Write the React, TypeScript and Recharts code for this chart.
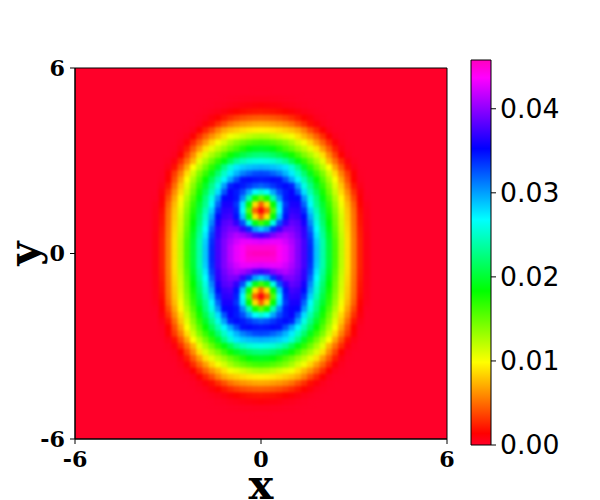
import React from "react";
import { ScatterChart, Scatter, XAxis, YAxis, ReferenceArea, Label } from "recharts";

// Grid of the upper-right quadrant: the picture is read as mirror-symmetric in x and y.
const xGrid = [0, 0.2, 0.4, 0.6, 0.8, 1.0, 1.2, 1.4, 1.6, 1.8, 2.0, 2.2, 2.4, 2.6, 2.8, 3.0, 3.2, 3.4, 3.6];
const yGrid = [0, 0.2, 0.4, 0.6, 0.8, 1.0, 1.2, 1.4, 1.6, 1.8, 2.0, 2.2, 2.4, 2.6, 2.8, 3.0, 3.2, 3.4, 3.6, 3.8, 4.0, 4.2, 4.4, 4.6, 4.8, 5.0, 5.2];
// Values in thousandths, one row per y, one column per x (missing cells are zero).
const densityRows = [
  [46, 46, 45.5, 44, 43, 41.5, 39.5, 37.5, 34, 28.7, 24, 20.1, 16.1, 12.2, 8.8, 5.6, 2.5, 0.6],
  [45, 45, 45, 44, 43, 41.5, 39.5, 37.5, 34, 28.7, 24, 20.1, 16.1, 12.2, 8.8, 5.6, 2.5, 0.6],
  [42.5, 42.8, 43, 43, 42.2, 41, 39.5, 37.5, 33.7, 28.4, 24, 19.9, 16, 12.2, 8.8, 5.6, 2.5, 0.6],
  [37.2, 37.9, 39.5, 40.6, 41.2, 40.3, 39, 37, 33.1, 27.6, 23.4, 19.5, 15.6, 11.9, 8.7, 5.5, 2.4, 0.6],
  [28.4, 30, 33.8, 37.1, 39.2, 39.4, 38.5, 36.8, 32.1, 26.8, 22.8, 18.9, 15.2, 11.6, 8.5, 5.4, 2.3, 0.5],
  [16.2, 19.1, 26, 32.6, 36.8, 38.5, 38, 36, 30.8, 25.9, 22, 18.3, 14.8, 11.4, 8.3, 5.3, 2.1, 0.5],
  [4.7, 8.9, 18.6, 28.6, 34.8, 37.5, 37.1, 35, 29.7, 25.2, 21.4, 17.8, 14.5, 11.2, 8.1, 5.2, 2, 0.45],
  [1, 4.7, 15.6, 26.7, 34.2, 36.8, 36.6, 33.7, 28.4, 24.3, 20.6, 17.2, 14, 10.8, 7.9, 5, 1.8, 0.4],
  [4.6, 8.7, 18.2, 27.5, 33.5, 36.1, 36, 32, 27, 23, 19.9, 16.6, 13.4, 10.3, 7.5, 4.6, 1.5, 0.3],
  [15.2, 17.9, 24.4, 30.6, 34.5, 35.6, 35, 30.3, 25.9, 22.4, 18.8, 15.7, 12.6, 9.6, 6.8, 3.8, 1.2, 0.1],
  [25.4, 26.8, 29.7, 32.7, 34.4, 35.5, 32.4, 27.9, 24.3, 21, 17.7, 14.7, 11.7, 8.7, 6, 3, 0.9],
  [32, 32.6, 33.5, 34.4, 35, 34.2, 30, 26, 22.9, 19.7, 16.7, 13.8, 10.9, 8, 5, 2.1, 0.5],
  [34.4, 34.6, 34.9, 34.7, 32.6, 29.8, 27.1, 24.2, 21.2, 18.3, 15.5, 12.7, 10, 6.9, 4, 1.4, 0.2],
  [33, 32.8, 32, 31, 29.3, 27.4, 24.9, 22, 19.2, 16.5, 14.2, 11.4, 8.7, 5.7, 3.3, 1.2, 0.1],
  [29.4, 29.2, 28.9, 28.4, 27.6, 25.4, 22.7, 19.5, 16.9, 14.6, 12.2, 9.85, 6.9, 4.2, 1.9, 0.5],
  [25.9, 25.7, 25.3, 24.5, 23.2, 21, 18.8, 16.8, 14.8, 12.7, 10.7, 7.4, 5.1, 2.8, 0.9, 0.2],
  [22.4, 22.2, 21.6, 20.7, 19.5, 17.9, 16.1, 14.2, 12.7, 11, 8.8, 6, 3.6, 1.4, 0.3],
  [19.3, 19.1, 18.6, 17.3, 16, 14.8, 13.3, 12, 10.6, 8.9, 6.6, 4.4, 2.3, 0.7, 0.1],
  [16.3, 16.1, 15.6, 14.9, 14, 12.8, 11.3, 10.2, 8.5, 6.6, 4.7, 2.8, 1.1, 0.3],
  [12.7, 12.5, 12, 11.4, 10.7, 10.2, 8.8, 7.5, 6.2, 4.6, 2.9, 1.3, 0.4, 0.1],
  [9.4, 9.3, 9.1, 8.8, 8.3, 7.8, 7, 5.7, 4, 2.6, 1.3, 0.4, 0.1],
  [7, 6.9, 6.6, 6.3, 5.8, 5.1, 4, 2.9, 1.8, 1, 0.4, 0.1],
  [4.5, 4.4, 4.2, 3.9, 3.4, 2.8, 2.1, 1.4, 0.9, 0.4, 0.15],
  [2.1, 2, 1.9, 1.7, 1.4, 1.1, 0.8, 0.5, 0.3, 0.1],
  [1, 0.9, 0.8, 0.7, 0.5, 0.4, 0.25, 0.15, 0.05],
  [0.3, 0.3, 0.25, 0.2, 0.15, 0.1, 0.05],
  [0.05, 0.05],
];
const axisTicks = [-6, 0, 6];
const barTicks = [0, 0.01, 0.02, 0.03, 0.04];
const barMax = 0.0458;

// gist_rainbow colour map: position, red, green, blue.
const rainbow: number[][] = [
  [0, 255, 0, 41],
  [0.03, 255, 0, 0],
  [0.215, 255, 255, 0],
  [0.4, 0, 255, 0],
  [0.586, 0, 255, 255],
  [0.77, 0, 0, 255],
  [0.954, 255, 0, 255],
  [1, 255, 0, 191],
];

function colourOf(value: number): string {
  const t = Math.min(1, Math.max(0, value / barMax));
  for (let i = 1; i < rainbow.length; i++) {
    if (t <= rainbow[i][0]) {
      const a = rainbow[i - 1];
      const b = rainbow[i];
      const f = (t - a[0]) / (b[0] - a[0]);
      const c = [1, 2, 3].map((k) => Math.round(a[k] + (b[k] - a[k]) * f));
      return `rgb(${c[0]},${c[1]},${c[2]})`;
    }
  }
  return "rgb(255,0,191)";
}

const cells: { x: number; y: number; v: number }[] = [];
yGrid.forEach((y, r) =>
  xGrid.forEach((x, c) => {
    const v = densityRows[r][c] / 1000;
    if (!(v > 0)) return;
    const xs = x === 0 ? [0] : [x, -x];
    const ys = y === 0 ? [0] : [y, -y];
    xs.forEach((px) => ys.forEach((py) => cells.push({ x: px, y: py, v })));
  })
);
const barPoints = barTicks.map((t) => ({ x: 0.5, y: t }));

const CELL = (372 / 12) * 0.2 + 0.6;
const Cell = (p: any) => (
  <rect x={p.cx - CELL / 2} y={p.cy - CELL / 2} width={CELL} height={CELL} fill={colourOf(p.payload.v)} />
);

const serifTick = { fontFamily: "DejaVu Serif", fontWeight: 700, fontSize: 22.2, fill: "#000" };
const labelStyle = { fontFamily: "DejaVu Serif", fontWeight: 700, fontSize: 41.7, fill: "#000" };

const XTitle = (p: any) => {
  const vb = p.viewBox;
  return (
    <text x={vb.x + vb.width / 2} y={499} textAnchor="middle" style={labelStyle}>
      x
    </text>
  );
};
const YTitle = (p: any) => {
  const vb = p.viewBox;
  const cx = 38;
  const cy = vb.y + vb.height / 2;
  return (
    <text x={cx} y={cy} textAnchor="middle" transform={`rotate(-90 ${cx} ${cy})`} style={labelStyle}>
      y
    </text>
  );
};

export default function App() {
  return (
    <div style={{ position: "absolute", left: 0, top: 0, width: 600, height: 500, background: "#fff" }}>
      <style>{`.heat .recharts-scatter { filter: blur(1.7px); }`}</style>
      <div className="heat" style={{ position: "absolute", left: 0, top: 0 }}>
        <ScatterChart width={600} height={500} margin={{ top: 68, left: 0, right: 153, bottom: 0 }}>
          <XAxis
            type="number"
            dataKey="x"
            domain={[-6, 6]}
            ticks={axisTicks}
            height={61}
            interval={0}
            tickLine={{ stroke: "#000" }}
            axisLine={{ stroke: "#000" }}
            tick={serifTick}
            tickSize={5}
            tickMargin={7}
          >
            <Label content={XTitle} />
          </XAxis>
          <YAxis
            type="number"
            dataKey="y"
            domain={[-6, 6]}
            ticks={axisTicks}
            width={75}
            interval={0}
            tickLine={{ stroke: "#000" }}
            axisLine={{ stroke: "#000" }}
            tick={serifTick}
            tickSize={5}
            tickMargin={5}
          >
            <Label content={YTitle} />
          </YAxis>
          <ReferenceArea x1={-6} x2={6} y1={-6} y2={6} fill={colourOf(0)} fillOpacity={1} stroke="#000" strokeWidth={1} />
          <Scatter data={cells} shape={Cell} isAnimationActive={false} />
        </ScatterChart>
      </div>
      <div style={{ position: "absolute", left: 0, top: 0 }}>
        <ScatterChart width={600} height={500} margin={{ top: 60, left: 471, right: 0, bottom: 55 }}>
          <defs>
            <linearGradient id="barFill" x1="0" y1="1" x2="0" y2="0">
              {rainbow.map((s) => (
                <stop key={s[0]} offset={s[0]} stopColor={`rgb(${s[1]},${s[2]},${s[3]})`} />
              ))}
            </linearGradient>
          </defs>
          <XAxis type="number" dataKey="x" domain={[0, 1]} hide />
          <YAxis
            type="number"
            dataKey="y"
            orientation="right"
            domain={[0, barMax]}
            ticks={barTicks}
            width={109}
            interval={0}
            tickFormatter={(v: number) => v.toFixed(2)}
            tick={{ fontFamily: "DejaVu Sans", fontSize: 26.7, fill: "#000" }}
            tickLine={{ stroke: "#000" }}
            axisLine={false}
            tickSize={5}
            tickMargin={4}
          />
          <ReferenceArea x1={0} x2={1} y1={0} y2={barMax} fill="url(#barFill)" fillOpacity={1} stroke="#000" strokeWidth={1} />
          <Scatter data={barPoints} shape={() => <g />} isAnimationActive={false} />
        </ScatterChart>
      </div>
    </div>
  );
}
